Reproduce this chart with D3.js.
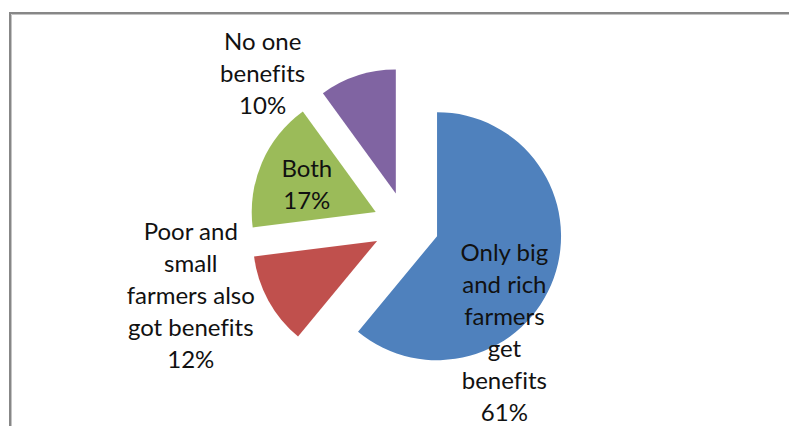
<!DOCTYPE html>
<html>
<head>
<meta charset="utf-8">
<script src="https://cdn.jsdelivr.net/npm/d3@7"></script>
<style>
  html, body { margin: 0; padding: 0; background: #fff; }
  svg { display: block; }
  text { font-variant-ligatures: none; font-feature-settings: "liga" 0, "clig" 0; }
</style>
</head>
<body>
<svg id="chart" width="789" height="426"></svg>
<script>
// ---- data ----
const categories = ["Only big and rich farmers get benefits", "Poor and small farmers also got benefits", "Both", "No one benefits"];
const labelLines = [
  ["Only big", "and rich", "farmers", "get", "benefits"],
  ["Poor and", "small", "farmers also", "got benefits"],
  ["Both"],
  ["No one", "benefits"]
];
const values = [61, 12, 17, 10];

// ---- layout / style ----
const W = 789, H = 426;
const colors = ["#4F81BD", "#C0504D", "#9BBB59", "#8064A2"];
const center = [406, 225];
const radius = 124;
const explode = 33;
const lineH = 32;
// label offsets relative to the exploded slice centroid
const labelOffset = [[9, 75], [-132, 25], [-12, -3], [-114, -61]];

const svg = d3.select("#chart");

// frame
svg.append("path")
  .attr("d", `M10,${H + 5} L10,13 L${W + 5},13`)
  .attr("fill", "none").attr("stroke", "#878787").attr("stroke-width", 2);
svg.append("path")
  .attr("d", `M11.5,${H + 5} L11.5,14.5 L${W + 5},14.5`)
  .attr("fill", "none").attr("stroke", "#c4c4c4").attr("stroke-width", 1);

const pie = d3.pie().sort(null).startAngle(0).endAngle(2 * Math.PI)(values);
const arc = d3.arc().innerRadius(0).outerRadius(radius);

const g = svg.append("g").attr("transform", `translate(${center[0]},${center[1]})`);

const slices = g.selectAll("g.slice").data(pie).join("g")
  .attr("class", "slice")
  .attr("transform", d => {
    const a = (d.startAngle + d.endAngle) / 2;
    return `translate(${Math.sin(a) * explode},${-Math.cos(a) * explode})`;
  });

slices.append("path")
  .attr("d", arc)
  .attr("fill", (d, i) => colors[i]);

// labels
const total = d3.sum(values);
slices.each(function (d, i) {
  const c = arc.centroid(d);
  const lines = labelLines[i].concat([Math.round(d.data / total * 100) + "%"]);
  const x = c[0] + labelOffset[i][0];
  const y = c[1] + labelOffset[i][1];
  const t = d3.select(this).append("text")
    .attr("text-anchor", "middle")
    .attr("font-family", "Lato, 'Noto Sans', sans-serif")
    .attr("font-size", 24)
    .attr("fill", "#111");
  lines.forEach((ln, k) => {
    t.append("tspan")
      .attr("x", x)
      .attr("y", y + (k - (lines.length - 1) / 2) * lineH)
      .attr("dy", "0.36em")
      .text(ln);
  });
});
</script>
</body>
</html>
